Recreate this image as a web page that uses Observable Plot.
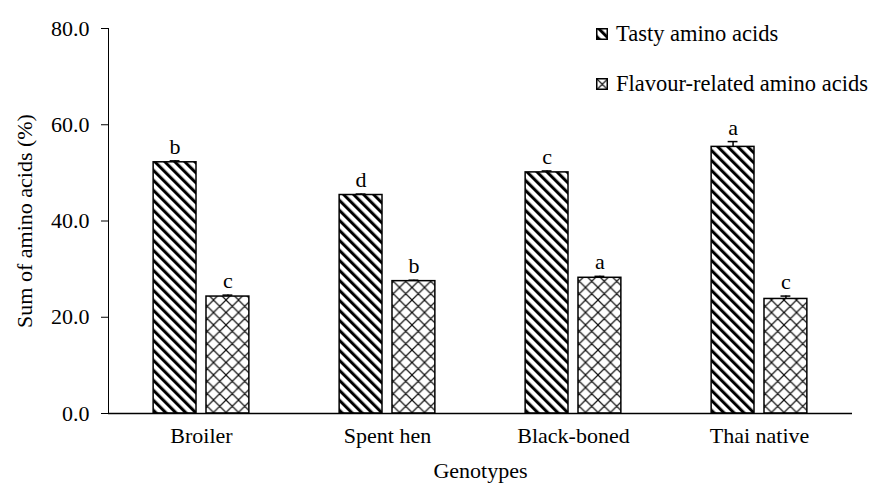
<!DOCTYPE html>
<html>
<head>
<meta charset="utf-8">
<script src="https://cdn.jsdelivr.net/npm/d3@7"></script>
<script src="https://cdn.jsdelivr.net/npm/@observablehq/plot@0.6"></script>
<style>
  body { margin: 0; background: #fff; }
  #wrap { position: relative; width: 869px; height: 485px; font-family: 'Liberation Serif', 'DejaVu Serif', serif; }
  #chart svg, #chart svg text { font-family: 'Liberation Serif', 'DejaVu Serif', serif !important; }
  #legend { position: absolute; left: 596px; top: 20px; font-size: 22.5px; color: #000; }
  #legend .row { display: flex; align-items: center; height: 28px; }
  #legend .row + .row { margin-top: 22px; }
  #legend svg { margin-right: 8px; }
</style>
</head>
<body>
<svg width="0" height="0" style="position:absolute">
  <defs>
    <pattern id="stripes" patternUnits="userSpaceOnUse" width="7.07" height="7.07" patternTransform="rotate(-45)">
      <rect x="0" y="0" width="3" height="7.07" fill="#000"></rect>
    </pattern>
    <pattern id="lattice" patternUnits="userSpaceOnUse" width="12.5" height="12.5">
      <rect width="12.5" height="12.5" fill="#fff"></rect>
      <path d="M0,0L12.5,12.5M12.5,0L0,12.5M-1,11.5L1,13.5M11.5,-1L13.5,1M-1,1L1,-1M11.5,13.5L13.5,11.5" stroke="#111" stroke-width="1.2" fill="none"></path>
    </pattern>
  </defs>
</svg>
<div id="wrap">
  <div id="chart"></div>
  <div id="legend"></div>
</div>
<script>
const genotypes = ["Broiler", "Spent hen", "Black-boned", "Thai native"];
const seriesNames = ["Tasty amino acids", "Flavour-related amino acids"];
const tasty = [52.2, 45.4, 50.1, 55.4];
const tastyErr = [0.3, 0.2, 0.3, 1.1];
const flavour = [24.3, 27.5, 28.2, 23.8];
const flavourErr = [0.3, 0.2, 0.3, 0.6];
const tastyLetters = ["b", "d", "c", "a"];
const flavourLetters = ["c", "b", "a", "c"];
const yTicks = [0, 20, 40, 60, 80];

const rows = genotypes.flatMap((g, i) => [
  {g, s: seriesNames[0], v: tasty[i], e: tastyErr[i], l: tastyLetters[i]},
  {g, s: seriesNames[1], v: flavour[i], e: flavourErr[i], l: flavourLetters[i]}
]);
const fills = {[seriesNames[0]]: "url(#stripes)", [seriesNames[1]]: "url(#lattice)"};

const chart = Plot.plot({
  width: 869,
  height: 485,
  marginLeft: 107,
  marginRight: 16,
  marginTop: 28,
  marginBottom: 72,
  style: "font-family: 'Liberation Serif', 'DejaVu Serif', serif; font-size: 22px; color: #000; background: #fff;",
  fx: {domain: genotypes, padding: 0, label: "Genotypes", labelAnchor: "center", tickSize: 0, tickPadding: 14, labelOffset: 64},
  x: {domain: seriesNames, paddingInner: 0.189, paddingOuter: 0.854, axis: null, round: false},
  y: {domain: [0, 80], ticks: yTicks, tickFormat: d => d.toFixed(1), tickSize: 7, tickPadding: 12, label: "Sum of amino acids (%)", labelArrow: "none", labelAnchor: "center", labelOffset: 92, line: true},
  marks: [
    ...seriesNames.map(s => Plot.barY(rows.filter(d => d.s === s), {fx: "g", x: "s", y: "v", fill: fills[s], stroke: "#000", strokeWidth: 1.5})),
    Plot.ruleX(rows, {fx: "g", x: "s", y1: d => d.v, y2: d => d.v + d.e, stroke: "#000", strokeWidth: 1.5}),
    Plot.tickY(rows, {fx: "g", x: "s", y: d => d.v + d.e, insetLeft: 16.5, insetRight: 16.5, stroke: "#000", strokeWidth: 1.5}),
    Plot.text(rows, {fx: "g", x: "s", y: d => d.v + d.e, text: "l", lineAnchor: "bottom", dy: -7, fontSize: 22, fill: "#000"}),
    Plot.ruleY([0], {stroke: "#000", strokeWidth: 1.5})
  ]
});
document.getElementById("chart").appendChild(chart);

const legend = document.getElementById("legend");
seriesNames.forEach(s => {
  const row = document.createElement("div");
  row.className = "row";
  row.innerHTML = `<svg width="12" height="12"><rect x="0.75" y="0.75" width="10.5" height="10.5" fill="${fills[s]}" stroke="#000" stroke-width="1.5"></rect></svg><span>${s}</span>`;
  legend.appendChild(row);
});
</script>
</body>
</html>
